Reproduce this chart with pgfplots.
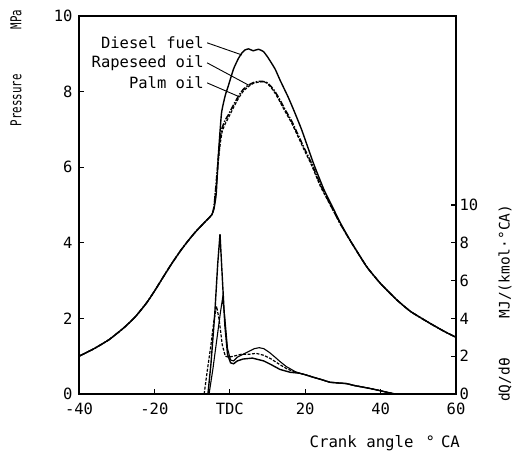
\documentclass[border=0pt]{standalone}
\usepackage{fontspec}
\setmainfont{DejaVu Sans Mono}
\usepackage{graphicx}
\usepackage{pgfplots}
\pgfplotsset{compat=1.18}
\pgfplotstableread{
x p
-40 1.00
-36 1.2
-32 1.44
-28 1.76
-25 2.05
-22 2.42
-19.8 2.75
-17.5 3.12
-15.4 3.45
-13 3.8
-11 4.06
-9 4.3
-6.6 4.55
-4.8 4.74
-4.2 4.9
-3.6 5.3
-3.0 6.37
-2.2 7.43
-1.2 7.9
-0.4 8.15
1 8.6
2.3 8.88
3.2 9.02
4.0 9.1
5 9.13
6.2 9.08
7.6 9.12
8.9 9.06
10 8.92
12 8.6
13.3 8.31
15.5 7.85
17 7.5
19.1 6.98
22.2 6.1
25 5.4
27 5.0
29.2 4.55
32 4.05
36.3 3.37
40 2.92
44.3 2.49
48 2.18
53.1 1.87
57 1.65
60 1.5
}\pdiesel
\pgfplotstableread{
x p
-40 1.00
-36 1.2
-32 1.44
-28 1.76
-25 2.05
-22 2.42
-19.8 2.75
-17.5 3.12
-15.4 3.45
-13 3.8
-11 4.06
-9 4.3
-6.6 4.55
-4.8 4.74
-4.2 4.95
-3.6 5.6
-3.0 6.3
-2.5 6.8
-2.0 7.05
-1.2 7.25
-0.4 7.38
1 7.65
2.3 7.88
3.5 8.05
4.9 8.17
6.3 8.24
7.6 8.27
8.7 8.27
9.8 8.24
11 8.13
12 8.0
13.3 7.78
14.8 7.5
16.4 7.22
18 6.88
20 6.45
21.7 6.1
24 5.55
26 5.15
29.2 4.52
32 4.05
36.3 3.37
40 2.92
44.3 2.49
48 2.18
53.1 1.87
57 1.65
60 1.5
}\prape
\pgfplotstableread{
x p
-40 1.00
-36 1.2
-32 1.44
-28 1.76
-25 2.05
-22 2.42
-19.8 2.75
-17.5 3.12
-15.4 3.45
-13 3.8
-11 4.06
-9 4.3
-6.6 4.55
-4.8 4.74
-4.2 4.93
-3.6 5.5
-3.0 6.2
-2.5 6.65
-2.0 6.95
-1.2 7.15
-0.4 7.3
1 7.58
2.3 7.82
3.5 8.0
4.9 8.13
6.3 8.22
7.6 8.25
8.7 8.26
9.8 8.23
11 8.1
12 7.96
13.3 7.73
14.8 7.45
16.4 7.17
18 6.83
20 6.4
21.7 6.05
24 5.5
26 5.12
29.2 4.52
32 4.05
36.3 3.37
40 2.92
44.3 2.49
48 2.18
53.1 1.87
57 1.65
60 1.5
}\ppalm
\pgfplotstableread{
x q
-5.8 0
-5 1.6
-4 4.2
-3.2 6.9
-2.6 8.46
-2.0 6.2
-1.3 3.6
-0.6 2.1
0.2 1.65
1 1.6
2 1.75
3.5 1.85
6 1.9
9 1.75
11 1.55
13.3 1.3
16 1.15
18.5 1.1
20 1.02
22.1 0.89
24 0.78
26.6 0.62
29 0.58
31 0.55
33 0.45
35.4 0.36
37.5 0.28
39.8 0.18
41.5 0.1
43.4 0.02
44 0
}\qdiesel
\pgfplotstableread{
x q
-5.5 0
-4.5 1.3
-3.5 2.8
-2.5 4.3
-1.9 5.09
-1.3 4.0
-0.6 2.4
0.2 1.8
1 1.75
2 1.95
3.5 2.1
5 2.25
6.5 2.4
7.8 2.45
9 2.4
10.5 2.2
12 1.95
13.3 1.72
15 1.45
17.3 1.19
18.5 1.1
20 1.02
22.1 0.89
24 0.78
26.6 0.62
29 0.58
31 0.55
33 0.45
35.4 0.36
37.5 0.28
39.8 0.18
41.5 0.1
43.4 0.02
44 0
}\qrape
\pgfplotstableread{
x q
-6.8 0
-6 1.2
-5 2.6
-4.2 3.9
-3.5 4.64
-2.8 3.9
-2 2.6
-1.2 2.0
-0.3 1.95
1 2.0
3 2.1
5 2.1
7 2.15
9 2.05
11 1.85
13.3 1.55
15 1.35
17 1.17
18.5 1.1
20 1.02
22.1 0.89
24 0.78
26.6 0.62
29 0.58
31 0.55
33 0.45
35.4 0.36
37.5 0.28
39.8 0.18
41.5 0.1
43.4 0.02
44 0
}\qpalm
\begin{document}
\begin{tikzpicture}
\useasboundingbox (-79pt,-58pt) rectangle (434pt,394pt);
\pgfplotsset{
  every axis/.append style={
    scale only axis, width=377pt, height=378pt,
    xmin=-40, xmax=60,
    tick align=inside, major tick length=5pt,
    axis line style={line width=1.6pt},
    every tick/.style={line width=1.2pt, black},
    /pgf/number format/assume math mode=true,
    ticklabel style={font=\fontsize{15.5}{15.5}\selectfont},
  },
}
\begin{axis}[
  ymin=0, ymax=10,
  xtick={-40,-20,0,20,40,60},
  xticklabels={-40,-20,TDC,20,40,60},
  ytick={0,2,4,6,8,10},
  xtick pos=bottom, ytick pos=left,
  xticklabel style={yshift=-5pt},
  yticklabel style={xshift=-3pt},
  clip=false,
]
\addplot[black, line width=1.4pt, smooth, tension=0.3] table[x=x,y=p]{\pdiesel};
\addplot[black, line width=1.5pt, dash pattern=on 6pt off 1.5pt on 1.5pt off 1.5pt, smooth, tension=0.3] table[x=x,y=p]{\prape};
\addplot[black, line width=1.2pt, dash pattern=on 3pt off 1.5pt, smooth, tension=0.3] table[x=x,y=p]{\ppalm};
\node[anchor=east, font=\fontsize{15.5}{15.5}\selectfont, inner sep=1pt] at (axis cs:-6.6,9.29) {Diesel fuel};
\node[anchor=east, font=\fontsize{15.5}{15.5}\selectfont, inner sep=1pt] at (axis cs:-6.6,8.76) {Rapeseed oil};
\node[anchor=east, font=\fontsize{15.5}{15.5}\selectfont, inner sep=1pt] at (axis cs:-6.6,8.23) {Palm oil};
\draw[line width=0.9pt] (axis cs:-6.0,9.29) -- (axis cs:3.2,8.97);
\draw[line width=0.9pt] (axis cs:-6.0,8.76) -- (axis cs:5.0,8.17);
\draw[line width=0.9pt] (axis cs:-6.0,8.23) -- (axis cs:2.6,7.86);
\node[rotate=90, font=\fontsize{15}{15}\selectfont] at (axis cs:-56.7,8.62) {\scalebox{0.72}[1]{Pressure}\hspace{45pt}\scalebox{0.72}[1]{MPa}};
\node[anchor=east, font=\fontsize{15.7}{15.7}\selectfont, inner sep=0pt] at (axis cs:61.1,-1.30) {Crank angle\hspace{12pt}°\hspace{6pt}CA};
\node[rotate=90, font=\fontsize{14.5}{15}\selectfont] at (axis cs:73,2.40) {dQ/dθ\hspace{40pt}MJ/(kmol·°CA)};
\end{axis}
\begin{axis}[
  ymin=0, ymax=20,
  axis x line=none, axis y line*=right,
  ytick={0,2,4,6,8,10},
  yticklabel pos=right,
]
\addplot[black, line width=1.4pt] table[x=x,y=q]{\qdiesel};
\addplot[black, line width=1.1pt] table[x=x,y=q]{\qrape};
\addplot[black, line width=1.2pt, dash pattern=on 3pt off 1.5pt] table[x=x,y=q]{\qpalm};
\end{axis}
\end{tikzpicture}
\end{document}
